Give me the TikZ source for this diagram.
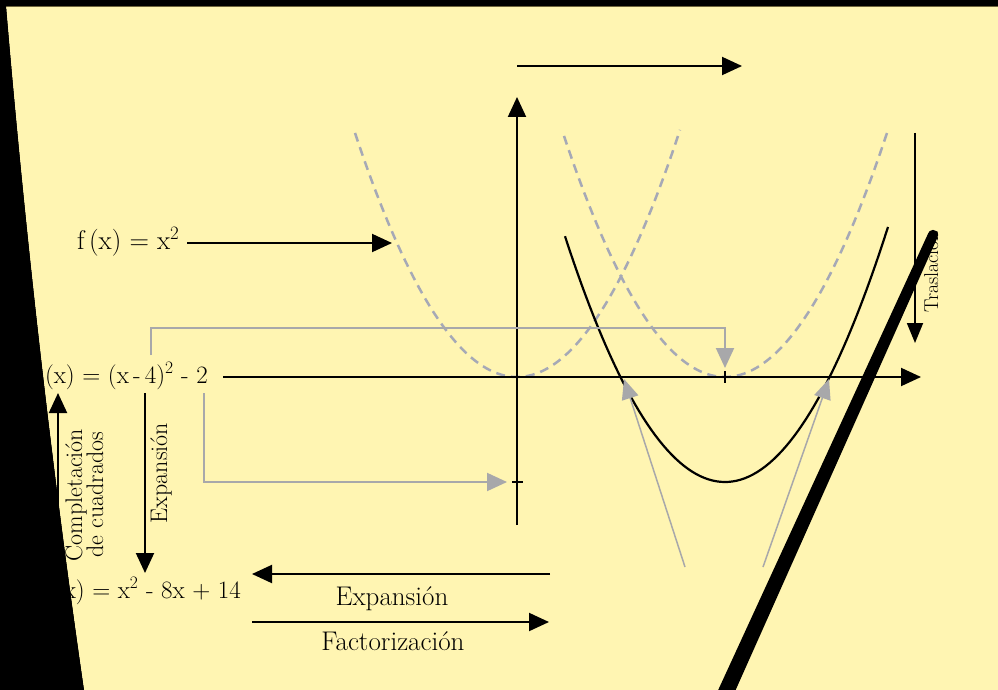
\documentclass[tikz,border=0pt]{standalone}
\usetikzlibrary{arrows.meta}
\definecolor{bgyellow}{RGB}{255,245,178}
\definecolor{dashgray}{RGB}{166,169,182}
\definecolor{arrgray}{RGB}{168,168,170}
\definecolor{edgeolive}{RGB}{110,100,60}
\begin{document}
\begin{tikzpicture}[x=1pt,y=-1pt,
  blk/.style={line width=2pt,-{Triangle[length=20pt,width=18pt]}},
  gry/.style={arrgray,line width=2pt,-{Triangle[length=20pt,width=18pt]}},
  gryt/.style={arrgray,line width=1.5pt,-{Triangle[length=20pt,width=17pt]}},
  lbl/.style={font=\fontsize{27}{32}\selectfont,inner sep=0pt},
  mlbl/.style={font=\fontsize{25}{30}\selectfont,inner sep=0pt},
  vlbl/.style={font=\fontsize{24}{28}\selectfont,inner sep=0pt,rotate=90},
  slbl/.style={font=\fontsize{20}{24}\selectfont,inner sep=0pt,rotate=90},
  dashcurve/.style={draw=dashgray,line width=2.5pt,dash pattern=on 9pt off 6pt},
  tick/.style={line width=1.5pt}]
\useasboundingbox (0,0) rectangle (998,690);
\clip (0,0) rectangle (998,690);
% background
\fill[black] (0,0) rectangle (998,690);
\fill[bgyellow] (6,6) -- (998,6) -- (998,690) -- (84,690)
  .. controls (51,462) and (25.3,234) .. (6,6) -- cycle;
\draw[edgeolive,line width=1pt] (6,6.5) -- (998,6.5);

% coordinates
\coordinate (yb) at (517,525); \coordinate (yt) at (517,97);
\coordinate (xl) at (223,377); \coordinate (xr) at (921,377);
\coordinate (ts) at (517,66);  \coordinate (te) at (742,66);
\coordinate (fa) at (187,243); \coordinate (fb) at (392,243);
\coordinate (g1a) at (151,355); \coordinate (g1b) at (725,368);
\coordinate (g2a) at (204,393); \coordinate (g2b) at (507,482);
\coordinate (g3a) at (685,567); \coordinate (g3b) at (624,379);
\coordinate (g4a) at (763,567); \coordinate (g4b) at (829,379);
\coordinate (ea) at (145,393); \coordinate (eb) at (145,573);
\coordinate (ca) at (58,578);  \coordinate (cb) at (58,393);
\coordinate (tra) at (915,133); \coordinate (trb) at (915,343);
\coordinate (ba) at (550,574); \coordinate (bb) at (252,574);
\coordinate (fca) at (252,622); \coordinate (fcb) at (549,622);

% dashed parabolas
\draw[dashcurve] plot[domain=-162:163,samples=80] ({517+\x},{377-(\x/100)*(\x/100)*93});
\draw[dashcurve] plot[domain=-161:162,samples=80] ({725+\x},{377-(\x/100)*(\x/100)*93});
% solid parabola
\draw[line width=2.2pt] plot[domain=-160:163,samples=80] ({725+\x},{482-(\x/100)*(\x/100)*96});

% axes
\draw[blk] (yb) -- (yt);
\draw[blk] (xl) -- (xr);
\draw[blk] (ts) -- (te);
\draw[tick] (512,482) coordinate (tk1) -- (523,482) coordinate (tk2);
\draw[tick] (725,371) coordinate (tk3) -- (725,383) coordinate (tk4);

% gray arrows
\draw[gry] (g1a) -- (151,328) -- (725,328) -- (g1b);
\draw[gry] (g2a) -- (204,482) -- (g2b);
\draw[gryt] (g3a) -- (g3b);
\draw[gryt] (g4a) -- (g4b);

% labels and black arrows
\node[lbl,anchor=base west] (l1) at (77,249) {f\,(x) = x\textsuperscript{2}};
\draw[blk] (fa) -- (fb);
\node[mlbl,anchor=base east] (l2) at (208,383) {f\,(x) = (x\,-\,4)\textsuperscript{2} - 2};
\node[mlbl,anchor=base east] (l3) at (241,598) {f\,(x) = x\textsuperscript{2} - 8x + 14};
\draw[blk] (ea) -- (eb);
\node[vlbl,anchor=base] (le) at (167,473) {Expansión};
\draw[blk] (ca) -- (cb);
\node[vlbl,anchor=base] (lc1) at (82,495) {Completación};
\node[vlbl,anchor=base] (lc2) at (103,495) {de cuadrados};
\draw[blk] (ba) -- (bb);
\node[lbl,anchor=base] (lx) at (392,605) {Expansión};
\draw[blk] (fca) -- (fcb);
\node[lbl,anchor=base] (lf) at (393,650) {Factorización};
\draw[line width=1.8pt,-{Triangle[length=20pt,width=16pt]}] (tra) -- (trb);
\node[slbl,anchor=base west] (lt) at (938,313) {Traslación};

% black overlays
\fill[black] (0,0) -- (6,6) .. controls (25.3,234) and (51,462) .. (84,690) -- (0,690) -- cycle;
\fill[black] (0,0) rectangle (998,6);
\fill[black] (928.4,232.9) -- (937.6,237.1) -- (729.7,703.3) -- (715.1,696.7) -- cycle;
\fill[black] (933,235) circle (5.2);
\end{tikzpicture}
\end{document}
